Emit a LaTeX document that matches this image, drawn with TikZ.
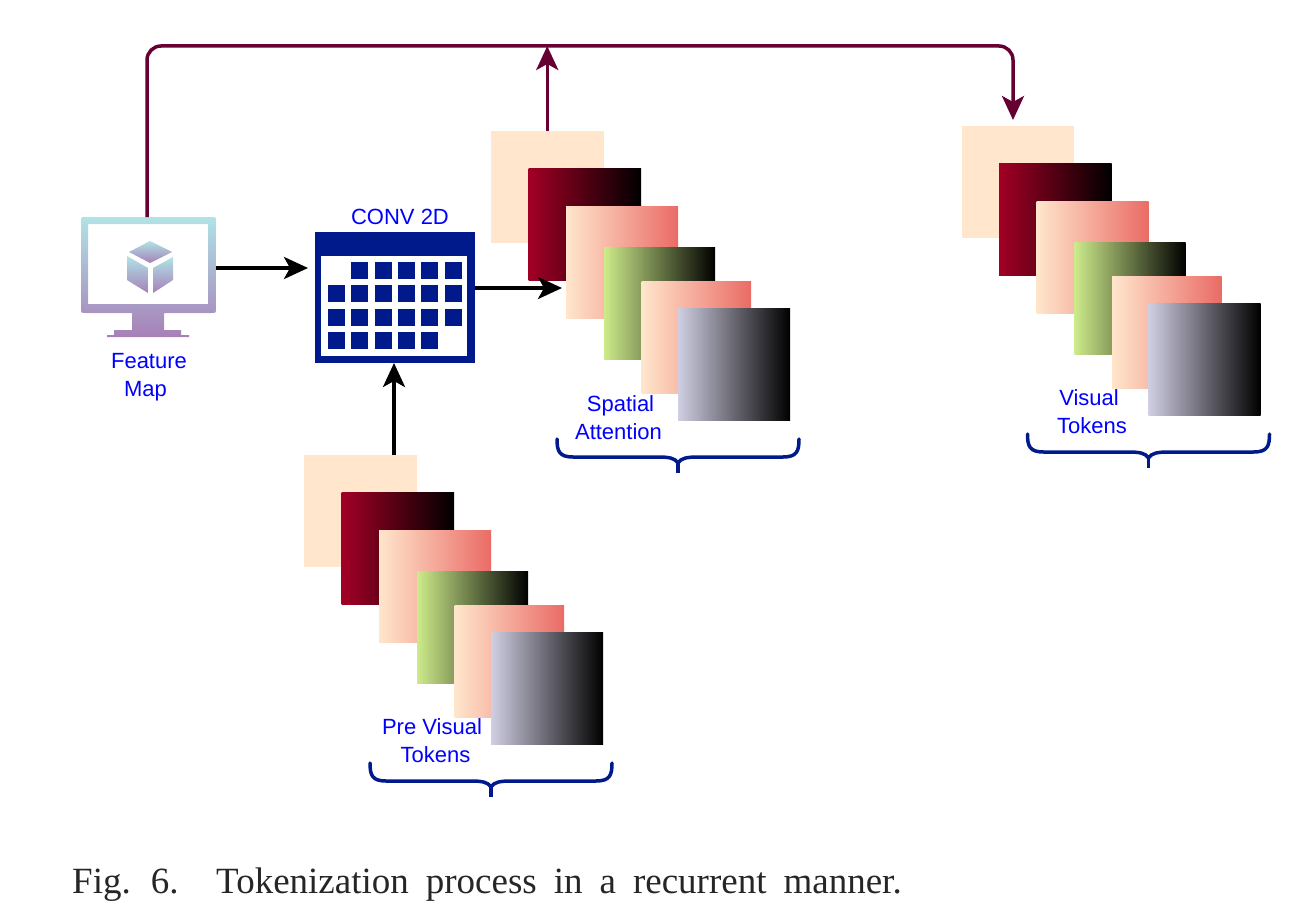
\documentclass[tikz,border=0pt]{standalone}
\usepackage{fontspec}
\setmainfont{Liberation Sans}
\newfontfamily\capfont{Liberation Serif}
\usetikzlibrary{arrows.meta}
\definecolor{peach}{HTML}{FFE6CC}
\definecolor{wine}{HTML}{A20025}
\definecolor{salmon}{HTML}{EA6B66}
\definecolor{lime}{HTML}{CDEB8B}
\definecolor{lilac}{HTML}{D0CEE2}
\definecolor{navy}{HTML}{001A8C}
\definecolor{maroon}{HTML}{660033}
\definecolor{teal1}{HTML}{B0E3E6}
\definecolor{purp}{HTML}{A680B8}
\tikzset{
  sq/.style={anchor=north west,inner sep=0pt,outer sep=0pt,minimum width=#1,minimum height=112pt},
  sq/.default=112.5pt,
  lbl/.style={text=blue,align=center,inner sep=0pt,font=\fontsize{22}{28}\selectfont},
  blk/.style={draw=black,line width=3.5pt,-{Stealth[length=24pt,width=22pt,inset=6pt]}},
  mar/.style={draw=maroon,line width=3.5pt,-{Stealth[length=24pt,width=22pt,inset=6pt]}},
  brc/.style={draw=navy,line width=3.5pt,line cap=round},
  captext/.style={anchor=base west,inner sep=0pt,text=black!85,font=\capfont\fontsize{37}{40}\selectfont}
}
\newcommand{\tokstack}[3]{%
  \begin{scope}[shift={(#2,#3)}]
    \node[sq,fill=peach] (#1a) at (304,455) {};
    \node[sq,left color=wine,right color=black] (#1b) at (341.5,492.5) {};
    \node[sq=112pt,left color=peach,right color=salmon] (#1c) at (379,530) {};
    \node[sq=111pt,left color=lime,right color=black] (#1d) at (417,571) {};
    \node[sq=109.5pt,left color=peach,right color=salmon] (#1e) at (454.5,605) {};
    \node[sq=112pt,left color=lilac,right color=black] (#1f) at (491,632) {};
    \draw[brc] (370,763) .. controls (370,775) and (372,781) .. (386,781) -- (470,781)
      .. controls (482,781) and (488,782) .. (491,787)
      .. controls (494,782) and (500,781) .. (512,781) -- (596,781)
      .. controls (610,781) and (612,775) .. (612,763);
    \draw[brc,line cap=butt] (491,786) -- (491,797);
  \end{scope}}
\begin{document}
\begin{tikzpicture}[x=1pt,y=-1pt]
\useasboundingbox (0,0) rectangle (1292,920);
% token stacks
\tokstack{pre}{0}{0}
\tokstack{sp}{187}{-324}
\tokstack{vt}{657.5}{-329}
\node[lbl] (lpre) at (432,741) {Pre Visual\\\hspace*{7pt}Tokens};
\node[lbl] (lsp) at (620.5,418) {Spatial\\Attention\hspace*{4pt}};
\node[lbl] (lvt) at (1092,412) {Visual\hspace*{6pt}\\Tokens};
% monitor icon
\begin{scope}[even odd rule]
  \clip (86,217) -- (211,217) .. controls (216,217) .. (216,222) -- (216,308)
    .. controls (216,313) .. (211,313) -- (86,313) .. controls (81,313) .. (81,308)
    -- (81,222) .. controls (81,217) .. (86,217) -- cycle
    (88,224) rectangle (208,304)
    (132,313) rectangle (164,330) (114,330) rectangle (181,335) (107,335) rectangle (189,337);
  \shade[top color=teal1,bottom color=purp] (81,217) rectangle (216,337);
\end{scope}
\shade[top color=teal1,bottom color=purp] (150,241) -- (172,252) -- (150,263) -- (129,252) -- cycle;
\shade[top color=teal1,bottom color=purp] (127,256) -- (148,268) -- (148,293) -- (127,280) -- cycle;
\shade[top color=teal1,bottom color=purp] (153,268) -- (173,257) -- (173,280) -- (153,293) -- cycle;
\node[inner sep=0pt,outer sep=0pt,minimum width=135pt,minimum height=96pt] (monitor) at (148.5,265) {};
\node[lbl] (lfm) at (149,377) {Feature\\Map\hspace*{7pt}};
% conv block
\node[fill=navy,inner sep=0pt,outer sep=0pt,minimum width=160pt,minimum height=131pt] (conv) at (395,297.5) {};
\fill[white] (321,256) rectangle (467,356);
\foreach \r/\a/\b in {0/1/5,1/0/5,2/0/5,3/0/4}
  \foreach \c in {\a,...,\b}
    \fill[navy] ({328+\c*23.3},{262+\r*23.3}) rectangle +(17,17);
\node[lbl] (lconv) at (400,217) {CONV 2D};
% connectors
\coordinate (topR) at (1013,46);
\coordinate (vtin) at ([yshift=6pt]vta.north);
\draw[blk] ([yshift=-3pt]monitor.east) -- ([xshift=-7pt,yshift=29.5pt]conv.west);
\draw[blk] ([yshift=9.5pt]conv.east) -- ([xshift=-4pt,yshift=-26pt]spc.west);
\draw[blk] ([xshift=-1pt]conv.south |- prea.north) -- ([xshift=-1pt]conv.south);
\draw[mar] ([xshift=-1.5pt]monitor.north) [rounded corners=14pt] |- (topR) -- (topR |- vtin);
\draw[mar] (spa.north) -- (spa.north |- topR);
% caption
\node[captext] (c1) at (72,893) {\spaceskip=17pt Fig. 6.};
\node[captext] (c2) at (216,893) {\spaceskip=17pt Tokenization process in a recurrent manner.};
\end{tikzpicture}
\end{document}
